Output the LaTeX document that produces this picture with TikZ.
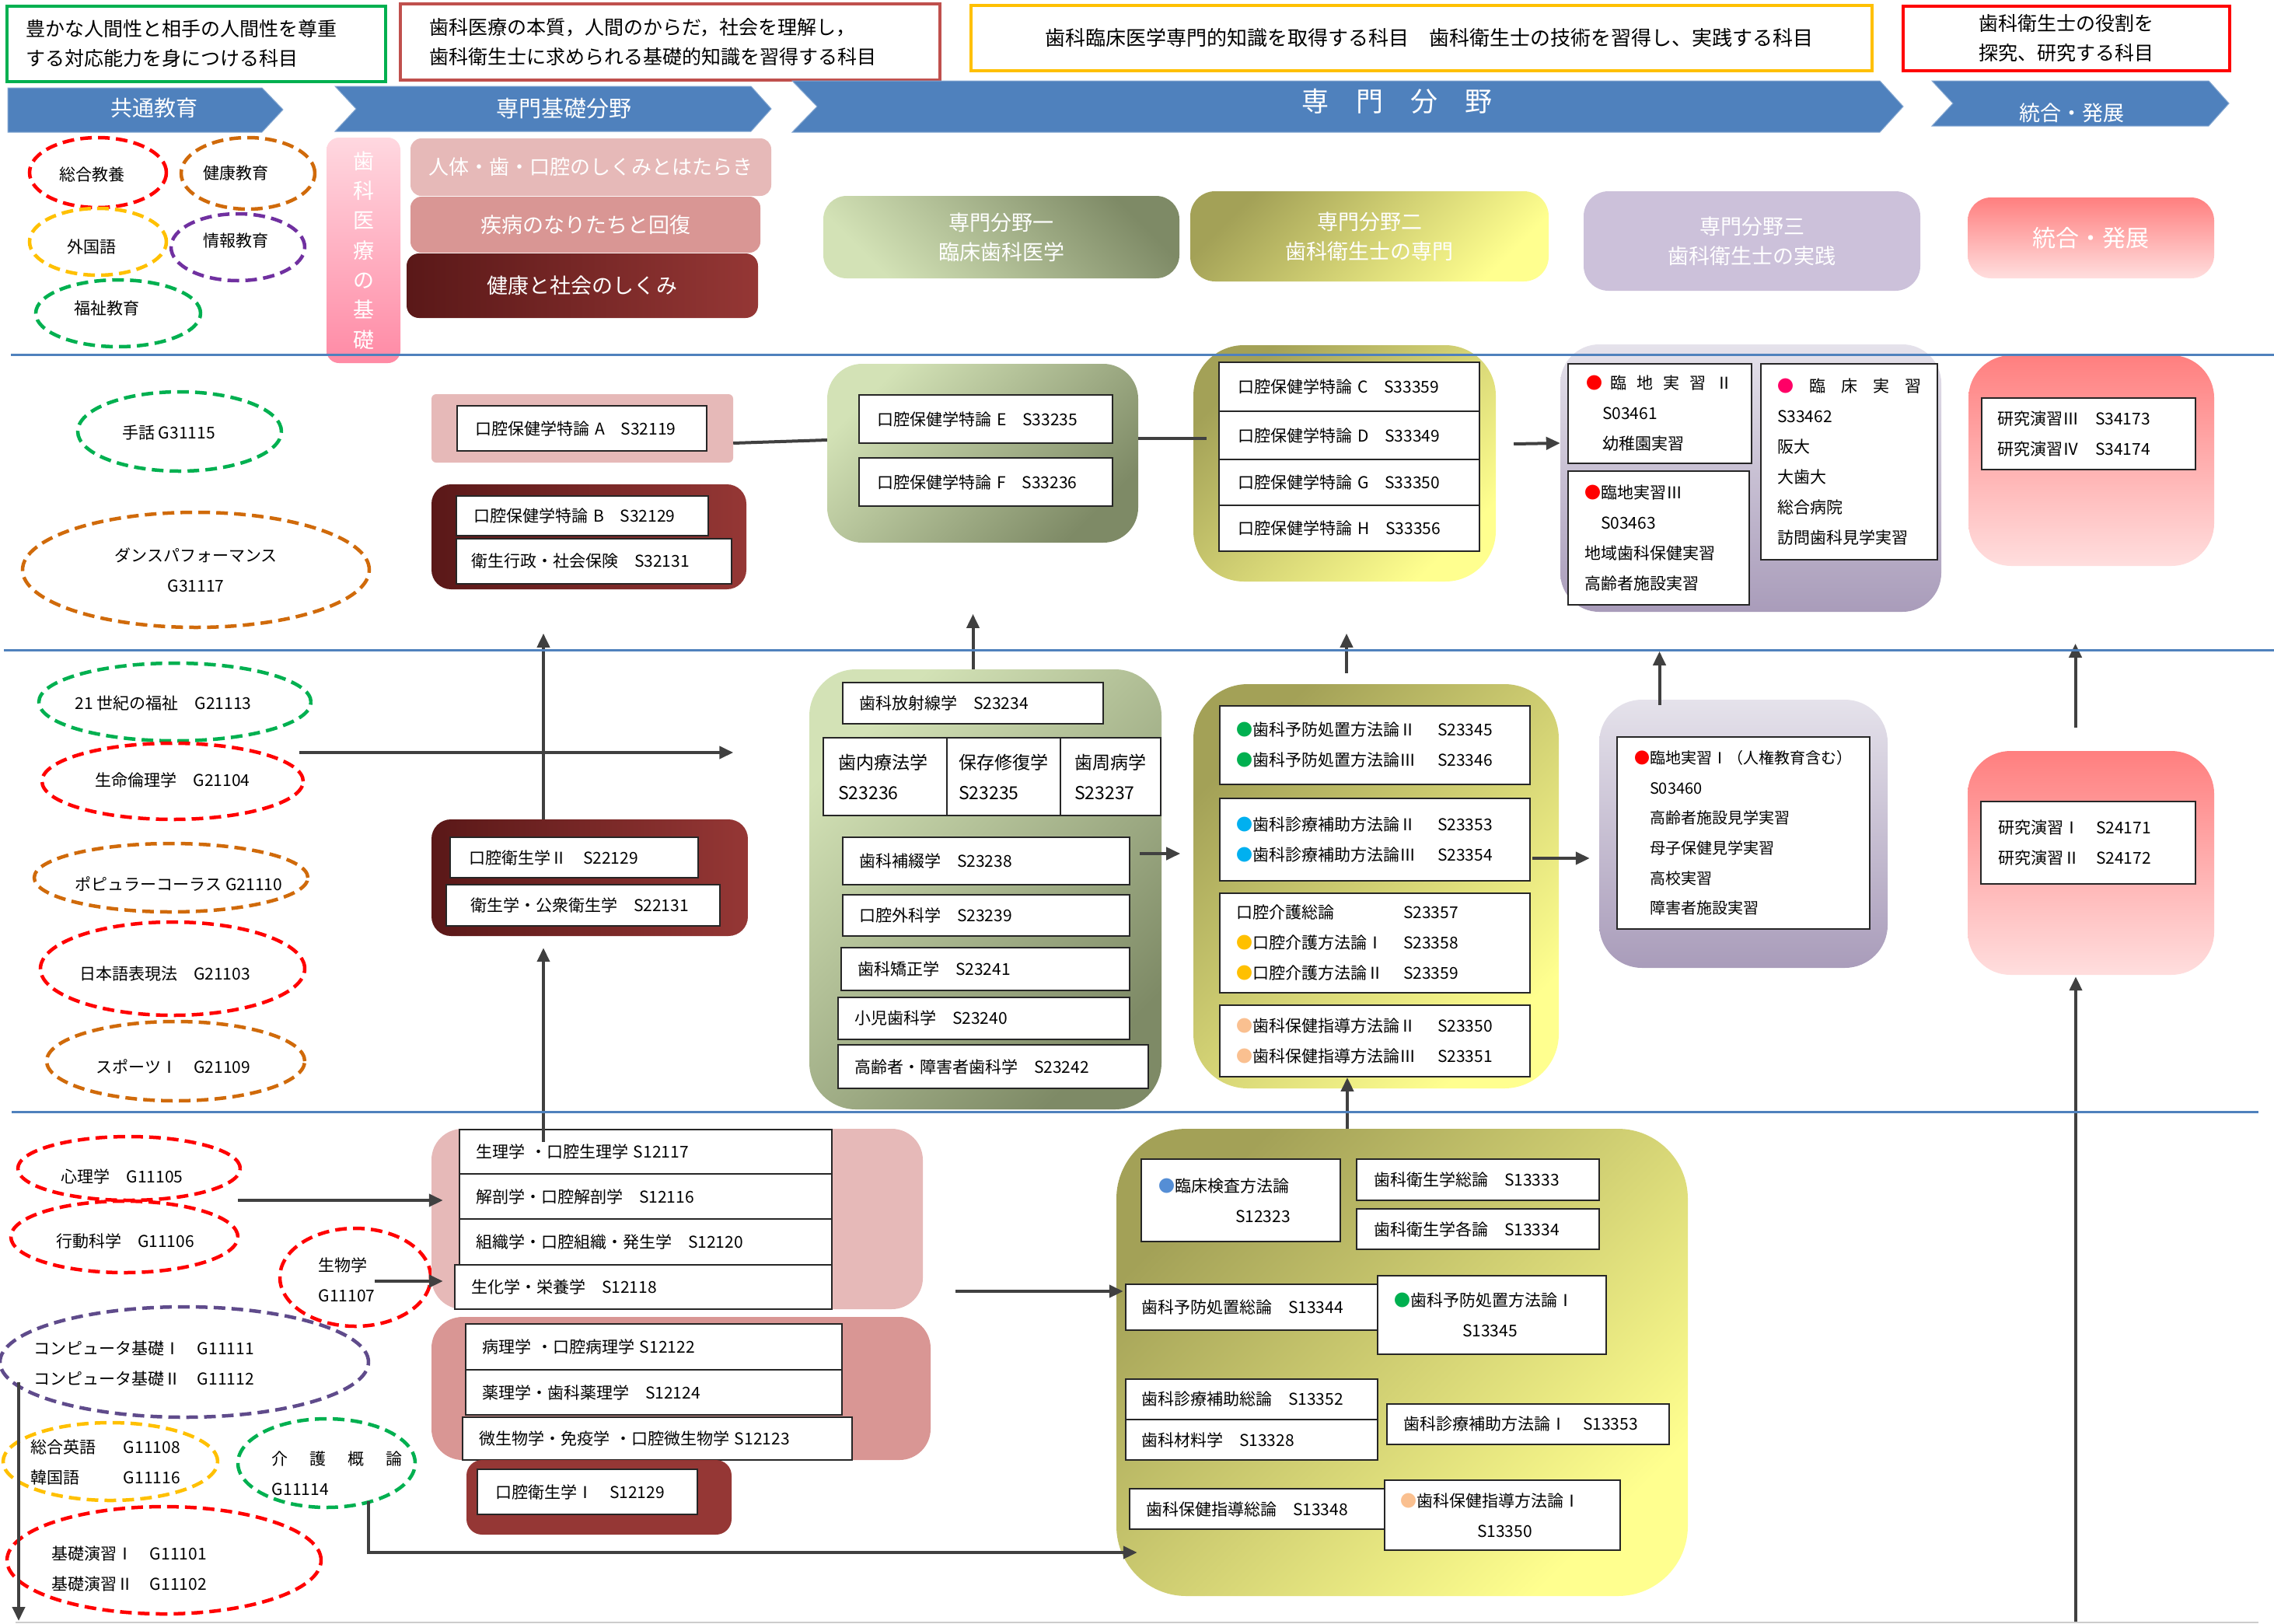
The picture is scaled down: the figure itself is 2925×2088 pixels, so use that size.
\documentclass[tikz,border=0pt]{standalone}
\usepackage{fontspec}
\setmainfont{Noto Sans CJK JP}
\usetikzlibrary{arrows.meta,shapes.geometric,calc}

\definecolor{hblue}{HTML}{4F81BD}
\definecolor{fgreen}{HTML}{00B050}
\definecolor{fbrick}{HTML}{C0504D}
\definecolor{fgold}{HTML}{FFC000}
\definecolor{fred}{HTML}{FF0000}
\definecolor{forange}{HTML}{D06A0A}
\definecolor{fpurple}{HTML}{7030A0}
\definecolor{fplum}{HTML}{5F4B8B}
\definecolor{pinkA}{HTML}{E6B9B8}
\definecolor{pinkB}{HTML}{D99694}
\definecolor{wineL}{HTML}{5A1818}
\definecolor{wine}{HTML}{953735}
\definecolor{oliveD}{HTML}{A3A157}
\definecolor{lemon}{HTML}{FFFF8F}
\definecolor{sageL}{HTML}{D3E2B6}
\definecolor{sageD}{HTML}{7E8A66}
\definecolor{lilacT}{HTML}{E5E2EB}
\definecolor{lilacB}{HTML}{A99CBA}
\definecolor{lilac}{HTML}{CCC1DA}
\definecolor{coralT}{HTML}{FF7F7F}
\definecolor{coralB}{HTML}{FFDEDE}
\definecolor{barT}{HTML}{FFD8E0}
\definecolor{barB}{HTML}{FF8AA5}
\definecolor{linkgray}{HTML}{404040}
\definecolor{dotpink}{HTML}{FF0066}
\definecolor{dotsky}{HTML}{00B0F0}
\definecolor{dotblue}{HTML}{558ED5}
\definecolor{dotpeach}{HTML}{FAC090}
\definecolor{dotgreen}{HTML}{00B050}
\definecolor{dotgold}{HTML}{FFC000}

\newcommand\dotc[1]{\textcolor{#1}{●}}
% [text offset]{style}{name}{x1}{y1}{x2}{y2}{text}
\newcommand\placebox[8][22]{%
  \pgfmathsetmacro\pbw{#6-#4}%
  \pgfmathsetmacro\pbh{#7-#5}%
  \pgfmathsetmacro\ptw{#6-#4-2*#1}%
  \node[#2, minimum width=\pbw pt, minimum height=\pbh pt, text width=\ptw pt, inner xsep=#1pt, inner ysep=0pt] (#3) at ({(#4+#6)/2},{(#5+#7)/2}) {#8};}

\tikzset{
  topframe/.style={draw=#1, line width=4pt, fill=white, align=left, font=\fontsize{25}{38}\selectfont},
  chev/.style={fill=hblue, draw=hblue!70!white, line width=1pt},
  headtxt/.style={text=white, inner sep=0pt, font=\fontsize{28}{34}\selectfont},
  subhead/.style={text=white, align=center, font=\fontsize{27}{38}\selectfont},
  grp/.style={draw=none, rounded corners=#1},
  sagebox/.style={grp=#1, top color=sageL, bottom color=sageD, shading angle=45},
  lemonbox/.style={grp=#1, top color=oliveD, bottom color=lemon, shading angle=45},
  lilacbox/.style={grp=#1, top color=lilacT, bottom color=lilacB},
  coralbox/.style={grp=#1, top color=coralT, bottom color=coralB},
  winebox/.style={grp=#1, left color=wineL, right color=wine},
  course/.style={draw=black!85, line width=1.8pt, fill=white, align=left, font=\fontsize{21}{39}\selectfont},
  oval/.style={ellipse, draw=#1, line width=4.5pt, dash pattern=on 15pt off 8pt, inner sep=0pt},
  ovaltext/.style={inner sep=0pt, align=left, font=\fontsize{21}{39}\selectfont},
  conn/.style={draw=linkgray, line width=4pt},
  flow/.style={conn, -{Triangle[length=18pt,width=16pt]}},
  sepline/.style={draw=hblue, line width=3pt}
}

\begin{document}
\begin{tikzpicture}[x=1pt,y=-1pt]
\useasboundingbox (0,0) rectangle (2925,2088);

% aims
\placebox[24]{topframe=fgreen}{aimcommon}{9}{8}{496}{105}{豊かな人間性と相手の人間性を尊重\\する対応能力を身につける科目}
\placebox[37]{topframe=fbrick}{aimbasic}{515}{5}{1209}{103}{歯科医療の本質，人間のからだ，社会を理解し，\\歯科衛生士に求められる基礎的知識を習得する科目}
\placebox[95]{topframe=fgold, font=\fontsize{26}{38}\selectfont}{aimmajor}{1249}{7}{2408}{91}{歯科臨床医学専門的知識を取得する科目　歯科衛生士の技術を習得し、実践する科目}
\placebox[10]{topframe=fred, align=center}{aimresearch}{2448}{8}{2868}{91}{歯科衛生士の役割を\\探究、研究する科目}

% chevrons
\fill[chev] (10,113) -- (337,113) -- (364,141) -- (337,170) -- (10,170) -- cycle;
\fill[chev] (431,111) -- (966,111) -- (992,140) -- (966,169) -- (431,169) -- (458,140) -- cycle;
\fill[chev] (1019,104) -- (2418,104) -- (2448,137) -- (2418,170) -- (1019,170) -- (1051,137) -- cycle;
\fill[chev] (2485,104) -- (2841,104) -- (2867,133) -- (2841,162) -- (2485,162) -- (2512,133) -- cycle;
\node[headtxt] (hcommon) at (198,139) {共通教育};
\node[headtxt, font=\fontsize{29}{34}\selectfont] (hbasic) at (725,140) {専門基礎分野};
\node[headtxt, font=\fontsize{35}{40}\selectfont] (hmajor) at (1797,130) {専　門　分　野};
\node[headtxt, font=\fontsize{27}{34}\selectfont] (hinteg) at (2665,145) {統合・発展};

% section heads
\placebox[0]{grp=16pt, top color=barT, bottom color=barB, subhead, font=\fontsize{27}{38.3}\selectfont}{basisbar}{420}{177}{515}{467}{歯\\科\\医\\療\\の\\基\\礎}
\placebox[0]{grp=14pt, fill=pinkA, subhead, font=\fontsize{26}{34}\selectfont}{anatomy}{528}{178}{992}{252}{人体・歯・口腔のしくみとはたらき}
\placebox[0]{grp=14pt, fill=pinkB, subhead, font=\fontsize{27}{34}\selectfont}{disease}{528}{253}{978}{325}{疾病のなりたちと回復}
\placebox[0]{winebox=16pt, subhead, font=\fontsize{27}{34}\selectfont}{society}{523}{326}{975}{409}{健康と社会のしくみ}
\placebox[0]{grp=30pt, top color=sageD, bottom color=sageL, shading angle=-45, subhead}{field1}{1059}{252}{1517}{358}{専門分野一\\臨床歯科医学}
\placebox[0]{lemonbox=32pt, subhead}{field2}{1531}{246}{1992}{362}{専門分野二\\歯科衛生士の専門}
\placebox[0]{grp=32pt, fill=lilac, subhead}{field3}{2037}{246}{2470}{374}{専門分野三\\歯科衛生士の実践}
\placebox[0]{coralbox=30pt, subhead, font=\fontsize{30}{38}\selectfont}{field4}{2531}{254}{2848}{358}{統合・発展}

% common education
\node[oval=fred, minimum width=176pt, minimum height=90pt] (liberal) at (126,222) {};
\node[ovaltext] (liberal-t) at ($(liberal)+(-8,3)$) {総合教養};
\node[oval=forange, minimum width=172pt, minimum height=92pt] (health) at (319,223) {};
\node[ovaltext] (health-t) at ($(health)+(-16,0)$) {健康教育};
\node[oval=fgold, minimum width=176pt, minimum height=86pt] (foreign) at (126,311) {};
\node[ovaltext] (foreign-t) at ($(foreign)+(-8,7)$) {外国語};
\node[oval=fpurple, minimum width=172pt, minimum height=86pt] (info) at (306,318) {};
\node[ovaltext] (info-t) at ($(info)+(-3,-8)$) {情報教育};
\node[oval=fgreen, minimum width=212pt, minimum height=86pt] (welfare) at (152,403) {};
\node[ovaltext] (welfare-t) at ($(welfare)+(-15,-6)$) {福祉教育};

\node[oval=fgreen, minimum width=262pt, minimum height=102pt] (sign) at (231,555) {};
\node[ovaltext] (sign-t) at ($(sign)+(-14,2)$) {手話 G31115};
\node[oval=forange, minimum width=446pt, minimum height=148pt] (dance) at (252,733) {};
\node[ovaltext, align=center] (dance-t) at (dance) {ダンスパフォーマンス\\G31117};

\node[oval=fgreen, minimum width=350pt, minimum height=100pt] (welfare21) at (225,903) {};
\node[ovaltext] (welfare21-t) at ($(welfare21)+(-15,2)$) {21 世紀の福祉　G21113};
\node[oval=fred, minimum width=336pt, minimum height=98pt] (bioethics) at (222,1005) {};
\node[ovaltext] (bioethics-t) at ($(bioethics)+(0,-2)$) {生命倫理学　G21104};
\node[oval=forange, minimum width=352pt, minimum height=88pt] (chorus) at (220,1129) {};
\node[ovaltext] (chorus-t) at ($(chorus)+(10,8)$) {ポピュラーコーラス G21110};
\node[oval=fred, minimum width=340pt, minimum height=120pt] (japanese) at (222,1246) {};
\node[ovaltext] (japanese-t) at ($(japanese)+(-10,7)$) {日本語表現法　G21103};
\node[oval=forange, minimum width=332pt, minimum height=102pt] (sports) at (226,1365) {};
\node[ovaltext] (sports-t) at ($(sports)+(-3,7)$) {スポーツⅠ　G21109};

\node[oval=fred, minimum width=286pt, minimum height=82pt] (psych) at (166,1503) {};
\node[ovaltext] (psych-t) at ($(psych)+(-9,10)$) {心理学　G11105};
\node[oval=fred, minimum width=292pt, minimum height=92pt] (behav) at (160,1591) {};
\node[ovaltext] (behav-t) at ($(behav)+(1,5)$) {行動科学　G11106};
\node[oval=fred, minimum width=194pt, minimum height=126pt] (biology) at (457,1643) {};
\node[ovaltext] (biology-t) at ($(biology)+(-11,3)$) {生物学\\G11107};
\node[oval=fplum, minimum width=474pt, minimum height=142pt] (computer) at (237,1752) {};
\node[ovaltext, anchor=west] (computer-t) at ($(computer.west)+(46,2)$) {コンピュータ基礎Ⅰ　G11111\\コンピュータ基礎Ⅱ　G11112};
\node[oval=fgold, minimum width=276pt, minimum height=100pt] (english) at (142,1880) {};
\node[ovaltext, anchor=west] (english-t) at ($(english.west)+(38,1)$) {\makebox[119pt][l]{総合英語}G11108\\\makebox[119pt][l]{韓国語}G11116};
\node[oval=fgreen, minimum width=228pt, minimum height=114pt] (care) at (420,1882) {};
\node[ovaltext, anchor=west] (care-t) at ($(care.west)+(46,13)$) {介\hspace{28pt}護\hspace{28pt}概\hspace{28pt}論\\G11114};
\node[oval=fred, minimum width=404pt, minimum height=138pt] (seminar) at (211,2007) {};
\node[ovaltext, anchor=west] (seminar-t) at ($(seminar.west)+(60,11)$) {基礎演習Ⅰ　G11101\\基礎演習Ⅱ　G11102};

% row 1
\placebox{grp=6pt, fill=pinkA}{ptAgrp}{555}{507}{943}{595}{}
\placebox[23]{course}{ptA}{588}{522}{909}{580}{口腔保健学特論 A　S32119}
\placebox{winebox=25pt}{ptBgrp}{555}{623}{960}{758}{}
\placebox[22]{course}{ptB}{587}{638}{911}{689}{口腔保健学特論 B　S32129}
\placebox[19]{course}{admin}{587}{693}{941}{751}{衛生行政・社会保険　S32131}
\placebox{sagebox=45pt}{efgrp}{1064}{468}{1464}{698}{}
\placebox[23]{course}{ptE}{1105}{508}{1431}{570}{口腔保健学特論 E　S33235}
\placebox[23]{course}{ptF}{1105}{589}{1431}{651}{口腔保健学特論 F　S33236}
\placebox{lemonbox=65pt}{chgrp}{1535}{444}{1924}{748}{}
\placebox[24]{course}{ptC}{1568}{466}{1903}{529}{口腔保健学特論 C　S33359}
\placebox[24]{course}{ptD}{1568}{529}{1903}{591}{口腔保健学特論 D　S33349}
\placebox[24]{course}{ptG}{1568}{591}{1903}{650}{口腔保健学特論 G　S33350}
\placebox[24]{course}{ptH}{1568}{650}{1903}{709}{口腔保健学特論 H　S33356}
\placebox{lilacbox=50pt}{rin2}{2007}{443}{2497}{787}{}
\placebox[23]{course}{rinII}{2017}{468}{2253}{596}{\dotc{fred}\hspace{10pt}臨\hspace{13pt}地\hspace{13pt}実\hspace{13pt}習\hspace{13pt}Ⅱ\\\hspace*{21pt}S03461\\\hspace*{21pt}幼稚園実習}
\placebox[21]{course}{rinIII}{2017}{606}{2250}{778}{\dotc{fred}臨地実習Ⅲ\\\hspace*{21pt}S03463\\地域歯科保健実習\\高齢者施設実習}
\placebox[21]{course}{clinic}{2265}{468}{2492}{720}{\dotc{dotpink}\hspace{20pt}臨\hspace{20pt}床\hspace{20pt}実\hspace{20pt}習\\S33462\\阪大\\大歯大\\総合病院\\訪問歯科見学実習}
\placebox{coralbox=55pt}{res1}{2532}{457}{2848}{728}{}
\placebox[20]{course}{semIII}{2549}{512}{2824}{604}{研究演習Ⅲ　S34173\\研究演習Ⅳ　S34174}

% row 2
\placebox{winebox=25pt}{eh2grp}{555}{1054}{962}{1204}{}
\placebox[24]{course}{ohII}{579}{1077}{898}{1129}{口腔衛生学Ⅱ　S22129}
\placebox[31]{course}{pubh}{574}{1138}{926}{1191}{衛生学・公衆衛生学　S22131}
\placebox{sagebox=60pt}{gb}{1041}{861}{1494}{1427}{}
\placebox[21]{course}{radio}{1084}{878}{1419}{931}{歯科放射線学　S23234}
\placebox[19]{course, font=\fontsize{23}{39}\selectfont}{endo}{1059}{949}{1218}{1049}{歯内療法学\\S23236}
\placebox[15]{course, font=\fontsize{23}{39}\selectfont}{oper}{1218}{949}{1364}{1049}{保存修復学\\S23235}
\placebox[18]{course, font=\fontsize{23}{39}\selectfont}{perio}{1364}{949}{1493}{1049}{歯周病学\\S23237}
\placebox[21]{course}{prosth}{1084}{1077}{1453}{1138}{歯科補綴学　S23238}
\placebox[21]{course}{surg}{1084}{1151}{1453}{1204}{口腔外科学　S23239}
\placebox[21]{course}{ortho}{1082}{1219}{1453}{1274}{歯科矯正学　S23241}
\placebox[21]{course}{pedo}{1078}{1283}{1453}{1337}{小児歯科学　S23240}
\placebox[21]{course}{geri}{1078}{1344}{1477}{1400}{高齢者・障害者歯科学　S23242}
\placebox{lemonbox=70pt}{yb2}{1535}{880}{2005}{1400}{}
\placebox[21]{course}{cA}{1569}{908}{1968}{1009}{\makebox[259pt][l]{\dotc{dotgreen}歯科予防処置方法論Ⅱ}S23345\\\makebox[259pt][l]{\dotc{dotgreen}歯科予防処置方法論Ⅲ}S23346}
\placebox[21]{course}{cB}{1569}{1027}{1968}{1133}{\makebox[259pt][l]{\dotc{dotsky}歯科診療補助方法論Ⅱ}S23353\\\makebox[259pt][l]{\dotc{dotsky}歯科診療補助方法論Ⅲ}S23354}
\placebox[21]{course}{cC}{1569}{1149}{1968}{1277}{\makebox[215pt][l]{口腔介護総論}S23357\\\makebox[215pt][l]{\dotc{dotgold}口腔介護方法論Ⅰ}S23358\\\makebox[215pt][l]{\dotc{dotgold}口腔介護方法論Ⅱ}S23359}
\placebox[21]{course}{cD}{1569}{1293}{1968}{1385}{\makebox[259pt][l]{\dotc{dotpeach}歯科保健指導方法論Ⅱ}S23350\\\makebox[259pt][l]{\dotc{dotpeach}歯科保健指導方法論Ⅲ}S23351}
\placebox{lilacbox=55pt}{rin1}{2057}{900}{2428}{1245}{}
\placebox[42]{course, font=\fontsize{20}{38.6}\selectfont}{rinI}{2080}{948}{2405}{1195}{\leavevmode\llap{\dotc{fred}}臨地実習Ⅰ（人権教育含む）\\S03460\\高齢者施設見学実習\\母子保健見学実習\\高校実習\\障害者施設実習}
\placebox{coralbox=55pt}{res2}{2531}{966}{2848}{1254}{}
\placebox[22]{course}{semI}{2548}{1031}{2824}{1137}{研究演習Ⅰ　S24171\\研究演習Ⅱ　S24172}

% row 3
\placebox{grp=40pt, fill=pinkA}{pink1}{555}{1452}{1187}{1684}{}
\placebox[21]{course}{physio}{591}{1453}{1070}{1510}{生理学\hspace{8pt}・口腔生理学\hspace{6pt}S12117}
\placebox[21]{course}{anat}{591}{1510}{1070}{1568}{解剖学・口腔解剖学　S12116}
\placebox[21]{course}{histo}{591}{1568}{1070}{1627}{組織学・口腔組織・発生学　S12120}
\placebox[21]{course}{bioch}{585}{1627}{1070}{1684}{生化学・栄養学　S12118}
\placebox{grp=40pt, fill=pinkB}{pink2}{555}{1694}{1197}{1878}{}
\placebox[21]{course}{patho}{599}{1703}{1083}{1762}{病理学\hspace{8pt}・口腔病理学\hspace{6pt}S12122}
\placebox[21]{course}{pharm}{599}{1762}{1083}{1820}{薬理学・歯科薬理学　S12124}
\placebox[21]{course}{micro}{595}{1823}{1096}{1878}{微生物学・免疫学\hspace{8pt}・口腔微生物学\hspace{6pt}S12123}
\placebox{grp=20pt, fill=wine}{eh1grp}{600}{1878}{941}{1974}{}
\placebox[23]{course}{ohI}{614}{1890}{897}{1948}{口腔衛生学Ⅰ　S12129}
\placebox{lemonbox=90pt}{yb3}{1436}{1452}{2171}{2053}{}
\placebox[22]{course}{labtest}{1468}{1491}{1724}{1597}{\dotc{dotblue}臨床検査方法論\\\hspace*{99pt}S12323}
\placebox[22]{course}{hygA}{1745}{1491}{2057}{1544}{歯科衛生学総論　S13333}
\placebox[22]{course}{hygB}{1745}{1555}{2057}{1607}{歯科衛生学各論　S13334}
\placebox[20]{course}{prevA}{1448}{1652}{1772}{1711}{歯科予防処置総論　S13344}
\placebox[21]{course}{prevB}{1772}{1641}{2066}{1742}{\dotc{dotgreen}歯科予防処置方法論Ⅰ\\\hspace*{88pt}S13345}
\placebox[20]{course}{assistA}{1448}{1774}{1772}{1826}{歯科診療補助総論　S13352}
\placebox[20]{course}{mater}{1448}{1826}{1772}{1878}{歯科材料学　S13328}
\placebox[21]{course}{assistB}{1784}{1806}{2147}{1858}{歯科診療補助方法論Ⅰ　S13353}
\placebox[21]{course}{guideA}{1453}{1915}{1781}{1967}{歯科保健指導総論　S13348}
\placebox[20]{course}{guideB}{1781}{1904}{2084}{1994}{\dotc{dotpeach}歯科保健指導方法論Ⅰ\\\hspace*{99pt}S13350}

% connectors
\draw[conn] ($(ptAgrp.east)+(0,19)$) -- ($(efgrp.west)+(0,-17)$);
\draw[conn] ($(efgrp.east)+(0,-19)$) -- ($(chgrp.west)+(17,-32)$);
\draw[flow] ($(chgrp.east)+(23,-25)$) -- ($(rin2.west)+(0,-45)$);
\draw[flow] ($(gb.north)+(-16,0)$) -- ++(0,-71);
\draw[flow] ($(yb2.north)+(-38,-14)$) -- ++(0,-51);
\draw[flow] ($(rin1.north)+(-108,7)$) -- ++(0,-69);
\draw[flow] ($(res2.north)+(-20,-30)$) -- ++(0,-108);
\draw[flow] ($(bioethics.east)+(-7,-37)$) -- ++(558,0);
\draw[flow] ($(eh2grp.north)+(-59.5,0)$) -- ++(0,-239);
\draw[flow] ($(physio.north)+(-131.5,17)$) -- ($(eh2grp.south)+(-59.5,15)$);
\draw[flow] ($(gb.east)+(-28,-46)$) -- ++(52,0);
\draw[flow] ($(cB.east)+(2,24)$) -- ($(rin1.west)+(-12,31.5)$);
\draw[flow] ($(yb3.north)+(-70.5,0)$) -- ($(cD.south)+(-35.5,0)$);
\coordinate (floorR) at (2670,2088);
\draw[flow] (floorR) -- ($(res2.south)+(-19.5,2)$);
\draw[flow] ($(psych.center)+(140,41)$) -- ($(pink1.west)+(15,-24)$);
\draw[flow] ($(biology.center)+(25,5)$) -- ($(pink1.west)+(15,80)$);
\draw[flow] ($(computer.center)+(-213,26)$) -- ++(0,307);
\draw[flow] ($(care.center)+(54,49)$) |- ($(yb3.west)+(27,244.5)$);
\draw[flow] ($(pink1.east)+(42,93)$) -- ($(yb3.west)+(9,-91.5)$);

% year lines
\draw[sepline] (14,456) -- (2925,456);
\draw[sepline] (5,836) -- (2925,836);
\draw[sepline] (15,1430) -- (2905,1430);
\draw[gray!40, line width=1.5pt] (20,2087) -- (2905,2087);
\end{tikzpicture}
\end{document}
